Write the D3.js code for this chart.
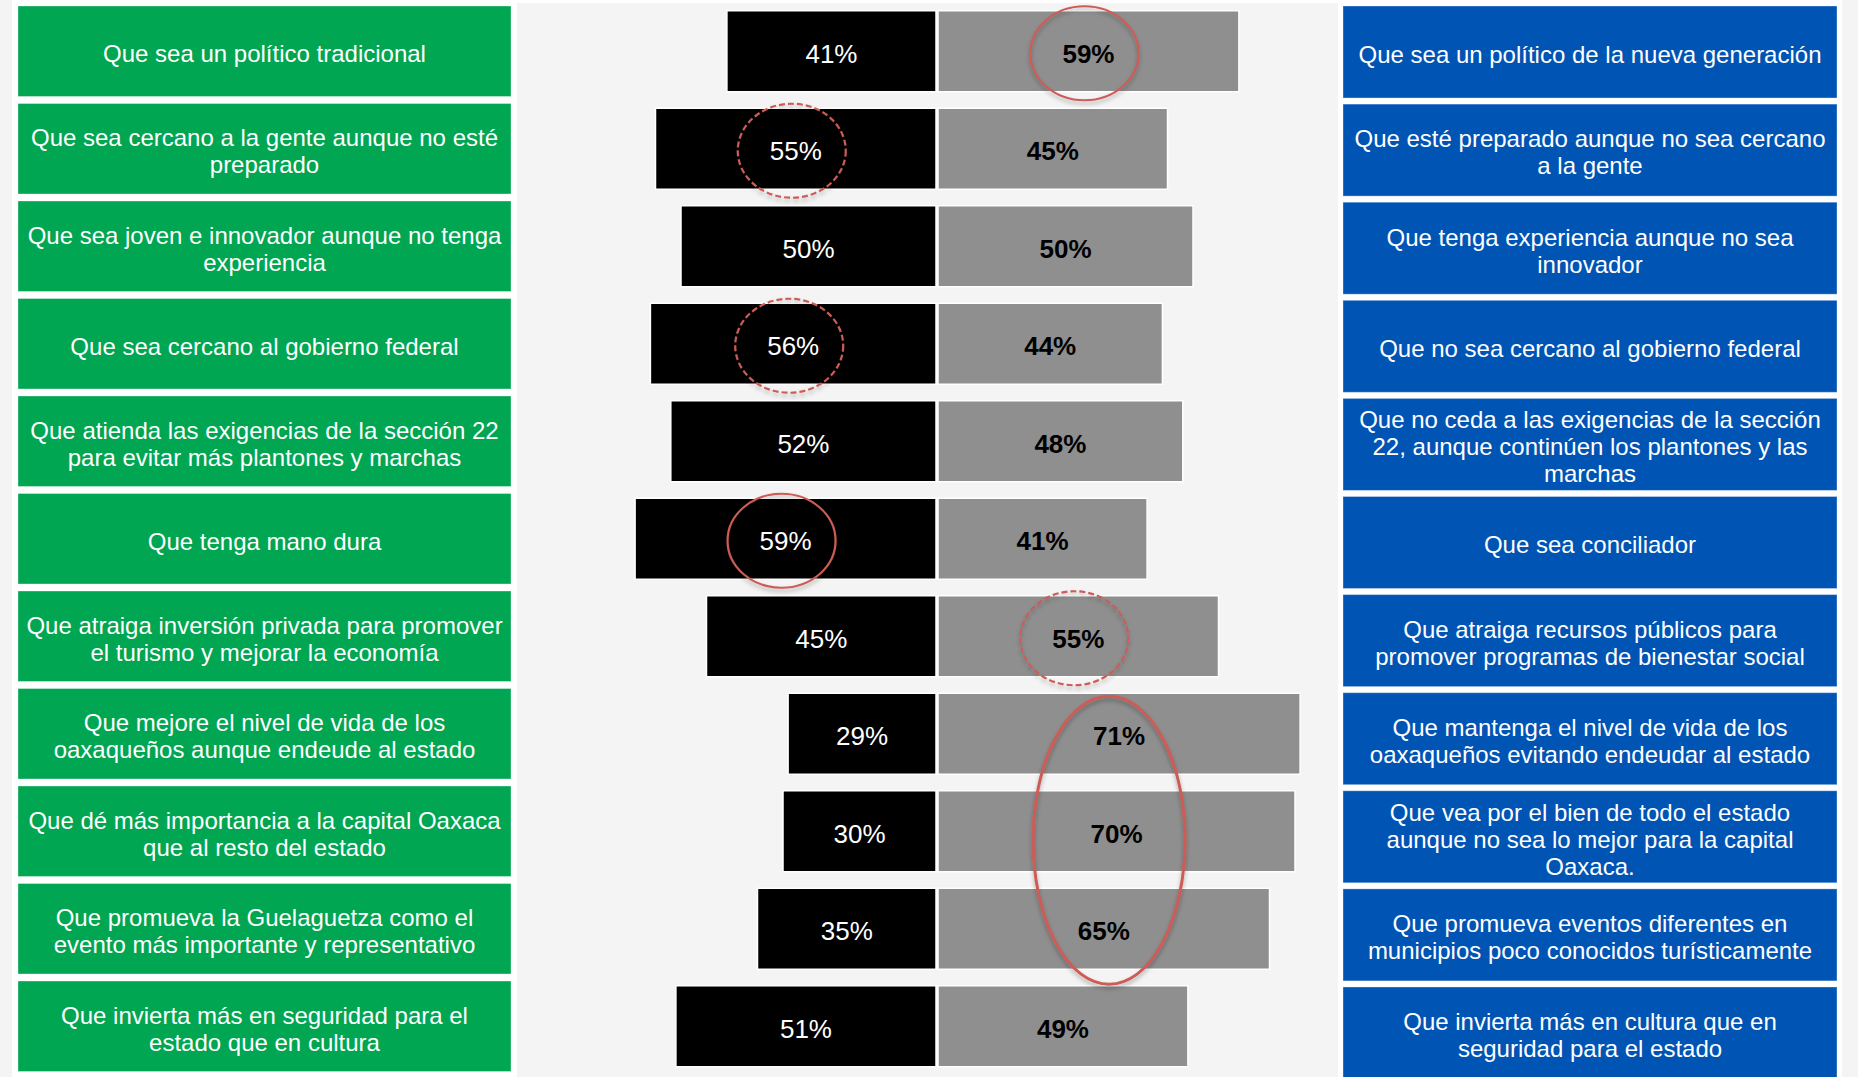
<!DOCTYPE html>
<html>
<head>
<meta charset="utf-8">
<script src="https://cdn.jsdelivr.net/npm/d3@7"></script>
<style>
  body { margin: 0; background: #f4f4f4; }
  svg { display: block; }
  text { font-family: "Liberation Sans", Arial, Helvetica, sans-serif; }
</style>
</head>
<body>
<div id="chart"></div>
<script>
// left option (green), right option (blue)
const leftLabels = [
    "Que sea un político tradicional",
    "Que sea cercano a la gente aunque no esté\npreparado",
    "Que sea joven e innovador aunque no tenga\nexperiencia",
    "Que sea cercano al gobierno federal",
    "Que atienda las exigencias de la sección 22\npara evitar más plantones y marchas",
    "Que tenga mano dura",
    "Que atraiga inversión privada para promover\nel turismo y mejorar la economía",
    "Que mejore el nivel de vida de los\noaxaqueños aunque endeude al estado",
    "Que dé más importancia a la capital Oaxaca\nque al resto del estado",
    "Que promueva la Guelaguetza como el\nevento más importante y representativo",
    "Que invierta más en seguridad para el\nestado que en cultura"
];
const rightLabels = [
    "Que sea un político de la nueva generación",
    "Que esté preparado aunque no sea cercano\na la gente",
    "Que tenga experiencia aunque no sea\ninnovador",
    "Que no sea cercano al gobierno federal",
    "Que no ceda a las exigencias de la sección\n22, aunque continúen los plantones y las\nmarchas",
    "Que sea conciliador",
    "Que atraiga recursos públicos para\npromover programas de bienestar social",
    "Que mantenga el nivel de vida de los\noaxaqueños evitando endeudar al estado",
    "Que vea por el bien de todo el estado\naunque no sea lo mejor para la capital\nOaxaca.",
    "Que promueva eventos diferentes en\nmunicipios poco conocidos turísticamente",
    "Que invierta más en cultura que en\nseguridad para el estado"
];
const leftValues = [41, 55, 50, 56, 52, 59, 45, 29, 30, 35, 51];
const rightValues = [59, 45, 50, 44, 48, 41, 55, 71, 70, 65, 49];

// red circles drawn over the chart
const highlights = [
    { rows: [0], side: "right", dashed: false },
    { rows: [1], side: "left", dashed: true },
    { rows: [3], side: "left", dashed: true },
    { rows: [5], side: "left", dashed: false },
    { rows: [6], side: "right", dashed: true },
    { rows: [7, 8, 9], side: "right", dashed: false }
];

const width = 1858, height = 1077;
const mid = 936;
const barH = 81;
const green = "#00a651", blue = "#0054b4", grey = "#8f8f8f", red = "#cd5c57";

const svg = d3.select("#chart").append("svg")
    .attr("width", width)
    .attr("height", height);

const defs = svg.append("defs");
defs.append("filter").attr("id", "shadow")
    .attr("x", "-20%").attr("y", "-20%").attr("width", "140%").attr("height", "140%")
    .append("feDropShadow")
    .attr("dx", 0).attr("dy", 3).attr("stdDeviation", 2)
    .attr("flood-color", "#000").attr("flood-opacity", 0.3);

// background panels
svg.append("rect").attr("width", width).attr("height", height).attr("fill", "#f4f4f4");
svg.append("rect").attr("x", 12).attr("y", 0).attr("width", 505).attr("height", height).attr("fill", "#fff");
svg.append("rect").attr("x", 1338).attr("y", 0).attr("width", 504).attr("height", height).attr("fill", "#fff");
svg.append("rect").attr("x", 517).attr("y", 0).attr("width", 821).attr("height", 3).attr("fill", "#fff");

const idx = d3.range(leftValues.length);
const rowsL = d3.scaleBand().domain(idx).range([6, 1071.5]).paddingInner(0.072);
const rowsR = d3.scaleBand().domain(idx).range([6, 1079]).paddingInner(0.062);
const x = d3.scaleLinear().domain([0, 100]).range([0, 510]);

const cyL = i => rowsL(i) + rowsL.bandwidth() / 2;
const cyR = i => rowsR(i) + rowsR.bandwidth() / 2;

function drawBoxes(labels, rows, cy, x0, w, fill) {
    const g = svg.append("g");
    g.selectAll("rect")
        .data(labels)
        .enter().append("rect")
        .attr("x", x0)
        .attr("y", (d, i) => rows(i))
        .attr("width", w)
        .attr("height", rows.bandwidth())
        .attr("fill", fill)
        .attr("stroke", "rgba(255,255,255,0.35)")
        .attr("stroke-width", 1);

    const t = g.selectAll("text")
        .data(labels)
        .enter().append("text")
        .attr("text-anchor", "middle")
        .attr("fill", "#fff")
        .attr("font-size", 24);
    t.each(function (d, i) {
        const lines = d.split("\n");
        const lh = 27;
        const y0 = cy(i) - (lines.length - 1) * lh / 2;
        d3.select(this).selectAll("tspan")
            .data(lines)
            .enter().append("tspan")
            .attr("x", x0 + w / 2)
            .attr("y", (l, k) => y0 + k * lh)
            .attr("dy", "0.45em")
            .text(l => l);
    });
}

drawBoxes(leftLabels, rowsL, cyL, 18, 493, green);
drawBoxes(rightLabels, rowsR, cyR, 1343, 494, blue);

// bars
const bars = svg.append("g");
bars.selectAll("rect.left")
    .data(leftValues)
    .enter().append("rect")
    .attr("class", "left")
    .attr("x", d => mid - x(d))
    .attr("y", (d, i) => cyL(i) - barH / 2)
    .attr("width", d => x(d))
    .attr("height", barH)
    .attr("fill", "#000")
    .attr("stroke", "#fff")
    .attr("stroke-width", 1.5);

bars.selectAll("rect.right")
    .data(rightValues)
    .enter().append("rect")
    .attr("class", "right")
    .attr("x", mid + 2)
    .attr("y", (d, i) => cyL(i) - barH / 2)
    .attr("width", d => x(d))
    .attr("height", barH)
    .attr("fill", grey)
    .attr("stroke", "#fff")
    .attr("stroke-width", 1.5);

const leftCx = v => mid - x(v) / 2;
const rightCx = v => mid + 2 + x(v) / 2;

bars.selectAll("text.left")
    .data(leftValues)
    .enter().append("text")
    .attr("class", "left")
    .attr("x", d => leftCx(d))
    .attr("y", (d, i) => cyL(i))
    .attr("dy", "0.45em")
    .attr("text-anchor", "middle")
    .attr("fill", "#fff")
    .attr("font-size", 26)
    .text(d => d + "%");

bars.selectAll("text.right")
    .data(rightValues)
    .enter().append("text")
    .attr("class", "right")
    .attr("x", d => rightCx(d))
    .attr("y", (d, i) => cyL(i))
    .attr("dy", "0.45em")
    .attr("text-anchor", "middle")
    .attr("fill", "#000")
    .attr("font-weight", "bold")
    .attr("font-size", 26)
    .text(d => d + "%");

// red ellipses
svg.append("g").selectAll("ellipse")
    .data(highlights)
    .enter().append("ellipse")
    .attr("cx", h => d3.mean(h.rows, i => h.side === "left" ? leftCx(leftValues[i]) : rightCx(rightValues[i])) - 4)
    .attr("cy", h => d3.mean(h.rows, i => cyL(i)) + (h.rows.length > 1 ? 9 : 2))
    .attr("rx", h => h.rows.length > 1 ? 76 : 54)
    .attr("ry", h => h.rows.length > 1 ? 144 : 47)
    .attr("fill", "none")
    .attr("stroke", red)
    .attr("stroke-width", h => h.rows.length > 1 ? 3 : 2.2)
    .attr("stroke-dasharray", h => h.dashed ? "6,3" : null)
    .attr("filter", "url(#shadow)");
</script>
</body>
</html>
